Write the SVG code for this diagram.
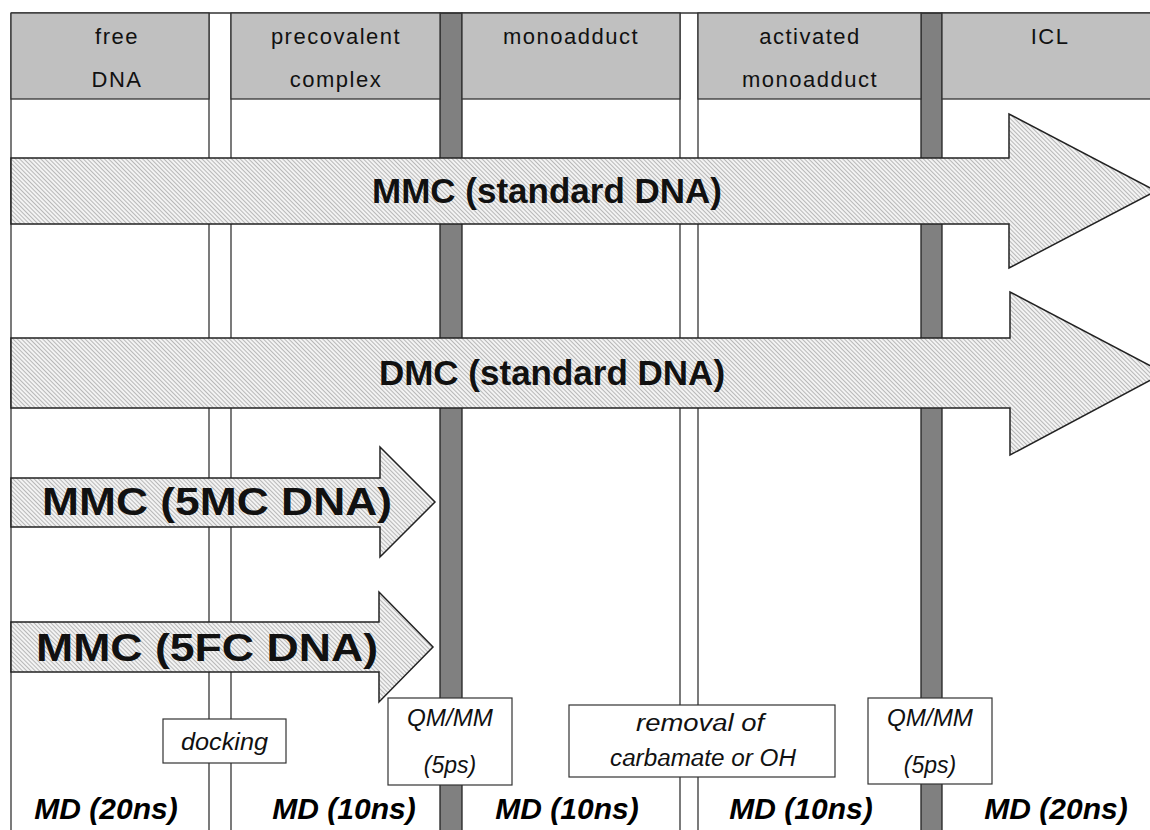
<svg xmlns="http://www.w3.org/2000/svg" width="1150" height="830" viewBox="0 0 1150 830">
<defs>
<pattern id="hatch" width="3" height="3" patternUnits="userSpaceOnUse" patternTransform="rotate(-45)">
<rect width="3" height="3" fill="#f3f3f3"/>
<line x1="0.5" y1="0" x2="0.5" y2="3" stroke="#b8b8b8" stroke-width="1"/>
</pattern>
<style>
.hdr{fill:#c0c0c0;stroke:#333;stroke-width:1.3}
.vl{stroke:#333;stroke-width:1.3;fill:none}
.bar{fill:#808080;stroke:#222;stroke-width:1.3}
.arr{fill:url(#hatch);stroke:#222;stroke-width:1.5;stroke-linejoin:miter}
.box{fill:#fff;stroke:#333;stroke-width:1.2}
.ht{font-family:"Liberation Sans",Arial,sans-serif;font-size:22px;fill:#111;text-anchor:middle;letter-spacing:1.5px}
.at{font-family:"Liberation Sans",Arial,sans-serif;font-size:35px;font-weight:bold;fill:#111;text-anchor:middle}
.as{font-family:"Liberation Sans",Arial,sans-serif;font-size:38px;font-weight:bold;fill:#111}
.bt{font-family:"Liberation Sans",Arial,sans-serif;font-size:23px;font-style:italic;fill:#111;text-anchor:middle}
.md{font-family:"Liberation Sans",Arial,sans-serif;font-size:30px;font-style:italic;font-weight:bold;fill:#000;text-anchor:middle}
</style>
</defs>
<rect width="1150" height="830" fill="#fff"/>
<g id="columns">
<line class="vl" x1="11" y1="13" x2="11" y2="830"/>
<line class="vl" x1="209" y1="13" x2="209" y2="830"/>
<line class="vl" x1="231" y1="13" x2="231" y2="830"/>
<line class="vl" x1="680" y1="13" x2="680" y2="830"/>
<line class="vl" x1="698" y1="13" x2="698" y2="830"/>
<rect class="bar" x="440" y="13" width="22" height="820"/>
<rect class="bar" x="921" y="13" width="21" height="820"/>
<line class="vl" x1="11" y1="13" x2="1150" y2="13"/>
</g>
<g id="header">
<g id="h-free"><rect class="hdr" x="11" y="13" width="198" height="86"/><text class="ht" x="117" y="44">free</text><text class="ht" x="117" y="87">DNA</text></g>
<g id="h-precovalent"><rect class="hdr" x="231" y="13" width="209" height="86"/><text class="ht" x="336" y="44">precovalent</text><text class="ht" x="336" y="87">complex</text></g>
<g id="h-monoadduct"><rect class="hdr" x="462" y="13" width="218" height="86"/><text class="ht" x="571" y="44">monoadduct</text></g>
<g id="h-activated"><rect class="hdr" x="698" y="13" width="223" height="86"/><text class="ht" x="810" y="44">activated</text><text class="ht" x="810" y="87">monoadduct</text></g>
<g id="h-icl"><rect class="hdr" x="942" y="13" width="215" height="86"/><text class="ht" x="1050" y="44">ICL</text></g>
</g>
<g id="connectors">
<g id="arrow-mmc-std"><polygon class="arr" points="11,158 1009,158 1009,114 1156,191 1009,268 1009,224 11,224"/><text class="at" x="547" y="203">MMC (standard DNA)</text></g>
<g id="arrow-dmc-std"><polygon class="arr" points="11,338 1010,338 1010,292 1164,373 1010,455 1010,408 11,408"/><text class="at" x="552" y="385">DMC (standard DNA)</text></g>
<g id="arrow-mmc-5mc"><polygon class="arr" points="11,478 380,478 380,447 435,502 380,557 380,527 11,527"/><text class="as" x="42" y="515" textLength="350" lengthAdjust="spacingAndGlyphs">MMC (5MC DNA)</text></g>
<g id="arrow-mmc-5fc"><polygon class="arr" points="11,622 379,622 379,592 433,647 379,702 379,672 11,672"/><text class="as" x="36" y="661" textLength="342" lengthAdjust="spacingAndGlyphs">MMC (5FC DNA)</text></g>
</g>
<g id="steps">
<g id="docking"><rect class="box" x="163" y="719" width="123" height="44"/><text class="bt" x="224.5" y="750" textLength="87" lengthAdjust="spacingAndGlyphs">docking</text></g>
<g id="qmmm1"><rect class="box" x="388" y="698" width="124" height="87"/><text class="bt" x="450" y="726" textLength="86" lengthAdjust="spacingAndGlyphs">QM/MM</text><text class="bt" x="450" y="773">(5ps)</text></g>
<g id="removal"><rect class="box" x="569" y="705" width="266" height="72"/><text class="bt" x="700" y="731" textLength="128" lengthAdjust="spacingAndGlyphs">removal of</text><text class="bt" x="703" y="766" textLength="186" lengthAdjust="spacingAndGlyphs">carbamate or OH</text></g>
<g id="qmmm2"><rect class="box" x="868" y="698" width="124" height="86"/><text class="bt" x="930" y="726" textLength="86" lengthAdjust="spacingAndGlyphs">QM/MM</text><text class="bt" x="930" y="773">(5ps)</text></g>
</g>
<g id="md-labels">
<text class="md" x="106" y="819">MD (20ns)</text>
<text class="md" x="344" y="819">MD (10ns)</text>
<text class="md" x="567" y="819">MD (10ns)</text>
<text class="md" x="801" y="819">MD (10ns)</text>
<text class="md" x="1056" y="819">MD (20ns)</text>
</g>
</svg>
